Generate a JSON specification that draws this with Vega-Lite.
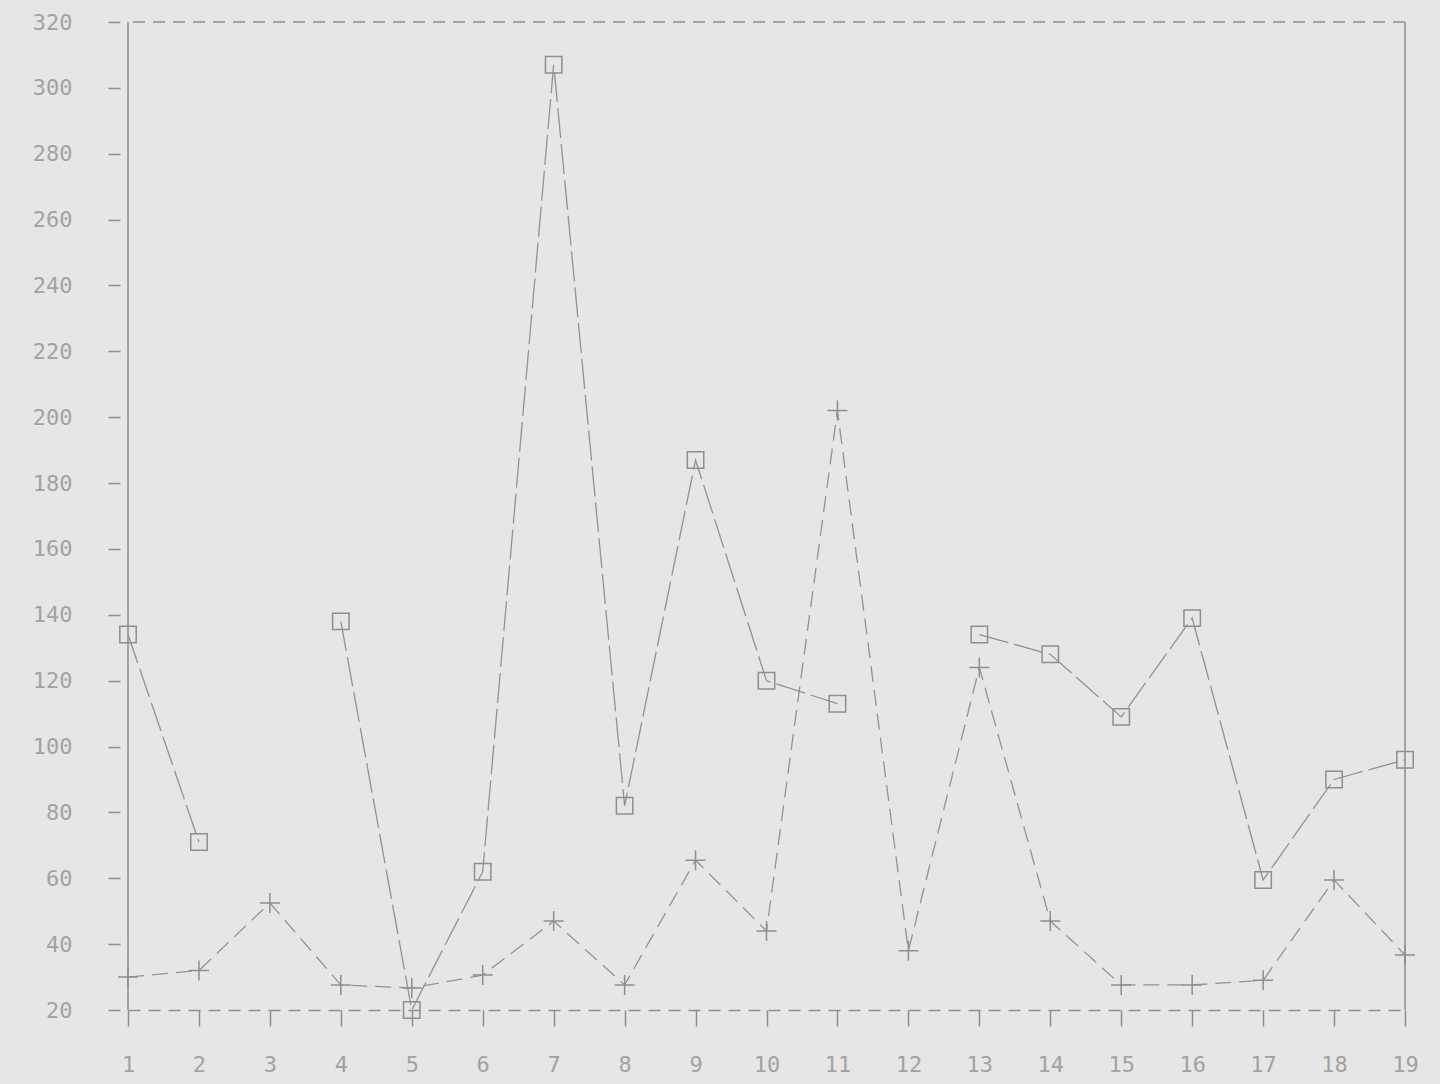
{
  "$schema": "https://vega.github.io/schema/vega-lite/v6.json",
  "autosize": {"type": "none"},
  "width": 1277,
  "height": 988,
  "padding": {"left": 128, "top": 22, "right": 35, "bottom": 74},
  "background": "#e6e6e6",
  "config": {
    "view": {"stroke": null},
    "axis": {
      "grid": false,
      "title": null,
      "labelFont": "DejaVu Sans Mono",
      "labelFontSize": 22,
      "labelColor": "#a2a2a2",
      "tickColor": "#8e8e8e",
      "tickWidth": 1.5,
      "domainColor": "#8e8e8e",
      "domainWidth": 1.5
    }
  },
  "data": {
    "values": [
      {"x": 1, "value": 134, "series": "A"},
      {"x": 2, "value": 71, "series": "A"},
      {"x": 3, "value": null, "series": "A"},
      {"x": 4, "value": 138, "series": "A"},
      {"x": 5, "value": 20, "series": "A"},
      {"x": 6, "value": 62, "series": "A"},
      {"x": 7, "value": 307, "series": "A"},
      {"x": 8, "value": 82, "series": "A"},
      {"x": 9, "value": 187, "series": "A"},
      {"x": 10, "value": 120, "series": "A"},
      {"x": 11, "value": 113, "series": "A"},
      {"x": 12, "value": null, "series": "A"},
      {"x": 13, "value": 134, "series": "A"},
      {"x": 14, "value": 128, "series": "A"},
      {"x": 15, "value": 109, "series": "A"},
      {"x": 16, "value": 139, "series": "A"},
      {"x": 17, "value": 59.5, "series": "A"},
      {"x": 18, "value": 90, "series": "A"},
      {"x": 19, "value": 96, "series": "A"},
      {"x": 1, "value": 30, "series": "B"},
      {"x": 2, "value": 32, "series": "B"},
      {"x": 3, "value": 52.5, "series": "B"},
      {"x": 4, "value": 27.6, "series": "B"},
      {"x": 5, "value": 26.7, "series": "B"},
      {"x": 6, "value": 30.6, "series": "B"},
      {"x": 7, "value": 47, "series": "B"},
      {"x": 8, "value": 27.6, "series": "B"},
      {"x": 9, "value": 65.5, "series": "B"},
      {"x": 10, "value": 44, "series": "B"},
      {"x": 11, "value": 202, "series": "B"},
      {"x": 12, "value": 38, "series": "B"},
      {"x": 13, "value": 124, "series": "B"},
      {"x": 14, "value": 47, "series": "B"},
      {"x": 15, "value": 27.6, "series": "B"},
      {"x": 16, "value": 27.6, "series": "B"},
      {"x": 17, "value": 29, "series": "B"},
      {"x": 18, "value": 59.5, "series": "B"},
      {"x": 19, "value": 36.7, "series": "B"}
    ]
  },
  "layer": [
    {
      "data": {"values": [{}]},
      "mark": {"type": "rule", "color": "#8e8e8e", "strokeWidth": 1.5},
      "encoding": {"x": {"datum": 1, "type": "quantitative"}}
    },
    {
      "data": {"values": [{}]},
      "mark": {"type": "rule", "color": "#8e8e8e", "strokeWidth": 1.5},
      "encoding": {"x": {"datum": 19, "type": "quantitative"}}
    },
    {
      "data": {"values": [{}]},
      "mark": {"type": "rule", "color": "#8e8e8e", "strokeWidth": 1.5, "strokeDash": [12, 8]},
      "encoding": {"y": {"datum": 320, "type": "quantitative"}}
    },
    {
      "mark": {"type": "line", "strokeWidth": 1.3, "color": "#929292", "invalid": "break-paths-show-domains"},
      "encoding": {
        "x": {
          "field": "x", "type": "quantitative",
          "scale": {"domain": [1, 19], "nice": false, "zero": false},
          "axis": {
            "values": [1,2,3,4,5,6,7,8,9,10,11,12,13,14,15,16,17,18,19],
            "format": "d",
            "tickSize": 16,
            "domainDash": [12, 8],
            "labelPadding": 28,
            "labelFlush": false
          }
        },
        "y": {
          "field": "value", "type": "quantitative",
          "scale": {"domain": [20, 320], "nice": false, "zero": false},
          "axis": {
            "values": [20,40,60,80,100,120,140,160,180,200,220,240,260,280,300,320],
            "format": "d",
            "offset": 8,
            "domain": false,
            "tickSize": 12,
            "labelPadding": 36,
            "labelFlush": false
          }
        },
        "detail": {"field": "series"},
        "strokeDash": {
          "field": "series", "type": "nominal",
          "scale": {"domain": ["A", "B"], "range": [[30, 6], [16, 8]]},
          "legend": null
        }
      }
    },
    {
      "mark": {"type": "point", "filled": false, "strokeWidth": 1.5, "color": "#8e8e8e", "opacity": 1},
      "encoding": {
        "x": {"field": "x", "type": "quantitative"},
        "y": {"field": "value", "type": "quantitative"},
        "shape": {
          "field": "series", "type": "nominal",
          "scale": {"domain": ["A", "B"], "range": ["square", "M-1,0H1M0,-1V1"]},
          "legend": null
        },
        "size": {
          "field": "series", "type": "nominal",
          "scale": {"domain": ["A", "B"], "range": [270, 400]},
          "legend": null
        }
      }
    }
  ]
}
